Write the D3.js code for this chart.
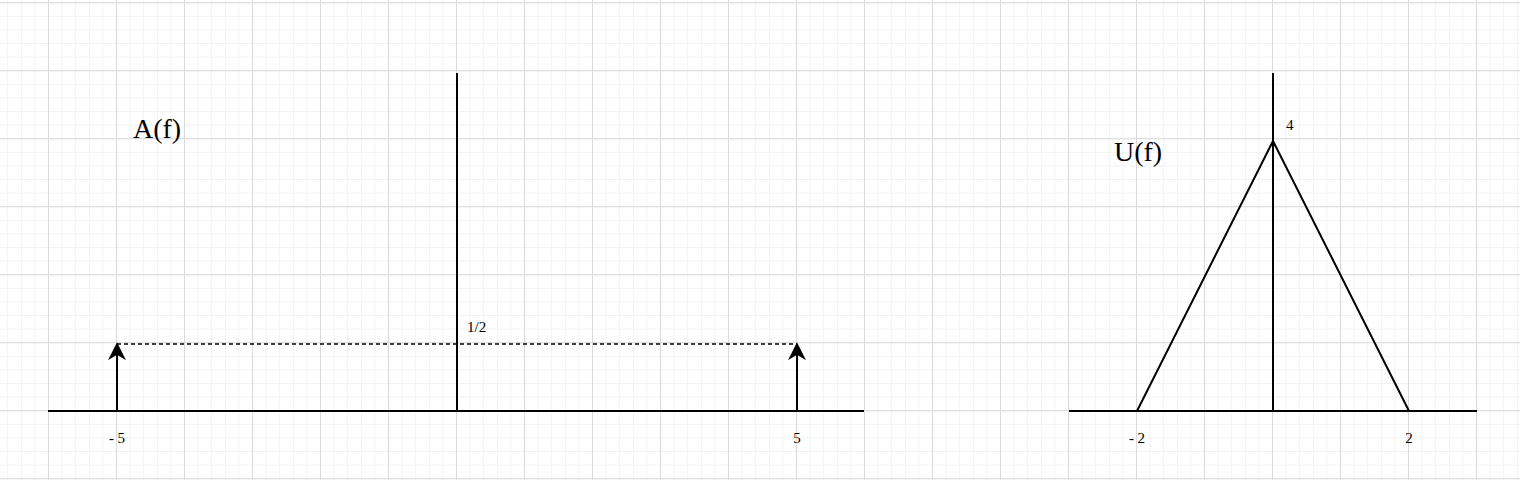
<!DOCTYPE html>
<html><head><meta charset="utf-8">
<script src="https://cdn.jsdelivr.net/npm/d3@7"></script>
<style>body{margin:0;background:#fff}</style>
</head><body><svg id="c" width="1520" height="480"></svg>
<script>
// impulse spectrum A(f)
let impulseF = [-5, 5]
let impulseAmp = [0.5, 0.5]
let leftTicks = ["- 5", "5"]
// triangle spectrum U(f)
let triF = [-2, 0, 2]
let triAmp = [0, 4, 0]
let rightTicks = ["- 2", "2"]

const svg = d3.select("#c").style("font-family", "'Liberation Serif', 'DejaVu Serif', 'Times New Roman', serif")
// grid
const g = svg.append("g")
for (let x = 48.5 - 13.6 * 3; x < 1520; x += 13.6) {
  g.append("line").attr("x1", x).attr("x2", x).attr("y1", 0).attr("y2", 480).attr("stroke", "#f2f2f2").attr("stroke-width", 1)
}
for (let y = 2.7; y < 480; y += 13.6) {
  g.append("line").attr("x1", 0).attr("x2", 1520).attr("y1", y).attr("y2", y).attr("stroke", "#f2f2f2").attr("stroke-width", 1)
}
for (let x = 48.5 - 68; x < 1520; x += 68) {
  g.append("line").attr("x1", x).attr("x2", x).attr("y1", 0).attr("y2", 480).attr("stroke", "#dadada")
}
for (let y = 2.7; y < 480; y += 68) {
  g.append("line").attr("x1", 0).attr("x2", 1520).attr("y1", y).attr("y2", y).attr("stroke", "#dadada")
}

svg.append("defs").append("marker").attr("id", "arr").attr("viewBox", "0 0 10 10")
  .attr("refX", 9).attr("refY", 5).attr("markerWidth", 18).attr("markerHeight", 18).attr("markerUnits", "userSpaceOnUse")
  .attr("orient", "auto").append("path").attr("d", "M0,0 L10,5 L0,10 L3,5 z").attr("fill", "#000")

// left chart
const xL = d3.scaleLinear().domain([-5, 5]).range([117, 797])
const yL = d3.scaleLinear().domain([0, 0.5]).range([411, 344])
svg.append("line").attr("x1", 48).attr("x2", 864).attr("y1", yL(0)).attr("y2", yL(0)).attr("stroke", "#000").attr("stroke-width", 2)
svg.append("line").attr("x1", xL(0)).attr("x2", xL(0)).attr("y1", 73).attr("y2", yL(0)).attr("stroke", "#000").attr("stroke-width", 2)
svg.append("line").attr("x1", xL(impulseF[0])).attr("x2", xL(impulseF[1])).attr("y1", yL(0.5)).attr("y2", yL(0.5))
  .attr("stroke", "#000").attr("stroke-width", 1.5).attr("stroke-dasharray", "4,3")
impulseF.forEach((f, i) => {
  svg.append("line").attr("x1", xL(f)).attr("x2", xL(f)).attr("y1", yL(0)).attr("y2", yL(impulseAmp[i]))
    .attr("stroke", "#000").attr("stroke-width", 2).attr("marker-end", "url(#arr)")
  svg.append("text").attr("x", xL(f)).attr("y", 443).attr("text-anchor", "middle").attr("font-size", 15).text(leftTicks[i])
})
svg.append("text").attr("x", 467).attr("y", 332).attr("font-size", 15).text("1/2")
svg.append("text").attr("x", 133).attr("y", 138).attr("font-size", 28).text("A(f)")

// right chart
const xR = d3.scaleLinear().domain([-2, 2]).range([1137, 1409])
const yR = d3.scaleLinear().domain([0, 4]).range([411, 141])
svg.append("line").attr("x1", 1069).attr("x2", 1477).attr("y1", yR(0)).attr("y2", yR(0)).attr("stroke", "#000").attr("stroke-width", 2)
svg.append("line").attr("x1", xR(0)).attr("x2", xR(0)).attr("y1", 73).attr("y2", yR(0)).attr("stroke", "#000").attr("stroke-width", 2)
svg.append("path").datum(triF.map((f, i) => [f, triAmp[i]]))
  .attr("d", d3.line().x(d => xR(d[0])).y(d => yR(d[1]))).attr("fill", "none").attr("stroke", "#000").attr("stroke-width", 2)
;[-2, 2].forEach((f, i) => {
  svg.append("text").attr("x", xR(f)).attr("y", 443).attr("text-anchor", "middle").attr("font-size", 15).text(rightTicks[i])
})
svg.append("text").attr("x", 1286).attr("y", 130).attr("font-size", 15).text("4")
svg.append("text").attr("x", 1114).attr("y", 161).attr("font-size", 28).text("U(f)")
</script></body></html>
